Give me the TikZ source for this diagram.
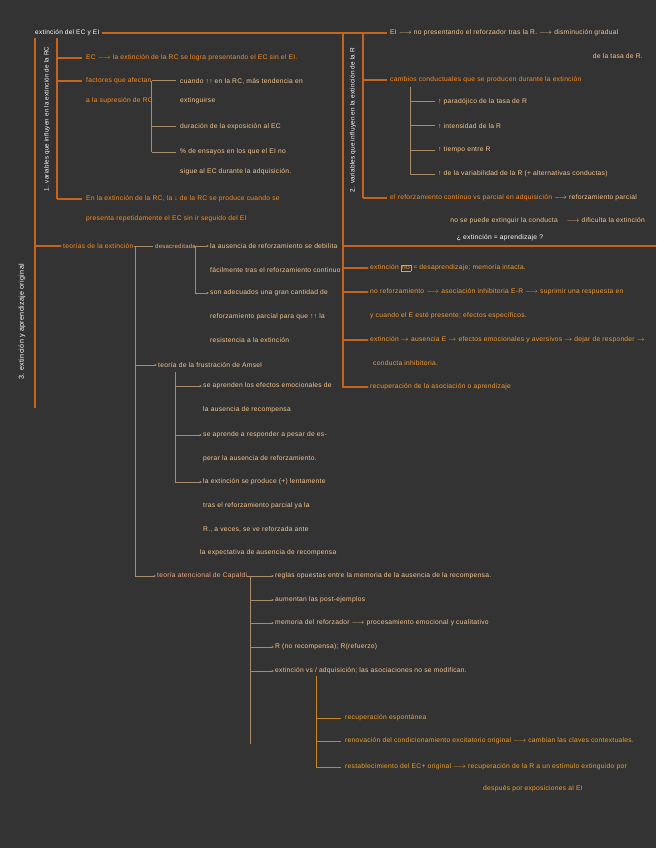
\documentclass[tikz,border=0pt]{standalone}
\usepackage{fontspec}
\setmainfont[LetterSpace=4]{Liberation Sans}
\usetikzlibrary{arrows.meta}
\definecolor{bgc}{HTML}{333333}
\definecolor{mainc}{HTML}{C4641E}
\definecolor{brtc}{HTML}{FF8A1C}
\definecolor{peachc}{HTML}{F7C78E}
\definecolor{tanc}{HTML}{A88C6A}
\definecolor{goldl}{HTML}{C8841E}
\definecolor{goldt}{HTML}{F2A024}
\definecolor{pinkc}{HTML}{EFA882}
\definecolor{orc}{HTML}{F59A30}
\newcommand{\ra}{$\rightarrow$}
\newcommand{\lra}{$\longrightarrow$}
\setlength{\fboxsep}{0.8pt}
\setlength{\fboxrule}{0.5pt}
\begin{document}
\begin{tikzpicture}[x=1pt,y=-1pt,
  lbl/.style={anchor=west,inner sep=0pt,font=\fontsize{6.7}{8}\selectfont},
  wt/.style={lbl,text=white},
  bo/.style={lbl,text=brtc},
  pe/.style={lbl,text=peachc},
  pk/.style={lbl,text=pinkc},
  oo/.style={lbl,text=orc},
  go/.style={lbl,text=goldt},
  vlab/.style={rotate=90,anchor=center,inner sep=0pt,text=white,font=\fontsize{6.2}{7}\selectfont},
  mline/.style={draw=mainc,line width=1.1pt},
  tline/.style={draw=tanc,line width=1pt},
  gline/.style={draw=goldl,line width=1pt},
  arrowed/.style={-{Stealth[length=2.6pt,width=2.4pt]},shorten >=1pt},
  gap/.style={shorten >=4pt}]
\fill[bgc] (0,0) rectangle (656,848);
\useasboundingbox (0,0) rectangle (656,848);

% ---------- titles and main verticals
\node[wt,font=\fontsize{6.5}{7}\selectfont] (title) at (35,33) {extinción del EC y EI};
\coordinate (Ltop) at (35,38); \coordinate (Lbot) at (35,408);
\draw[mline] (Ltop) -- (Lbot);
\coordinate (S1top) at (57,38); \coordinate (S1bot) at (57,199);
\draw[mline] (S1top) -- (S1bot);
\node[vlab] (lab1) at (47,119) {1. variables que influyen en la extinción de la RC};
\node[vlab,font=\fontsize{7.2}{8}\selectfont] (lab3) at (22,322) {3. extinción y aprendizaje original};
\node[vlab,font=\fontsize{6.4}{7}\selectfont] (lab2) at (353,120) {2. variables que influyen en la extinción de la R};

% ---------- section 1
\node[bo] (e1) at (86,58) {EC \lra{} la extinción de la RC se logra presentando el EC sin el EI.};
\draw[mline,gap] (S1top |- e1.west) -- (e1.west);
\node[bo] (f1) at (86,81) {factores que afectan};
\node[bo] (f2) at (86,101) {a la supresión de RC};
\draw[mline,gap] (S1top |- f1.west) -- (f1.west);
\node[bo] (x1) at (86,199) {En la extinción de la RC, la ↓ de la RC se produce cuando se};
\node[bo] (x2) at (86,219) {presenta repetidamente el EC sin ir seguido del EI};
\draw[mline,gap] (S1bot) -- (x1.west);

\node[pe] (s1) at (180,81) {cuando ↑↑ en la RC, más tendencia en};
\node[pe] (s1b) at (180,101) {extinguirse};
\node[pe] (s2) at (180,127) {duración de la exposición al EC};
\node[pe] (s3) at (180,152) {\% de ensayos en los que el EI no};
\node[pe] (s3b) at (180,172) {sigue al EC durante la adquisición.};
\draw[tline,gap] (f1.east) -- (s1.west);
\draw[tline] (f1.east) -- (f1.east |- s3.west);
\draw[tline,gap] (f1.east |- s2.west) -- (s2.west);
\draw[tline,gap] (f1.east |- s3.west) -- (s3.west);

% ---------- section 2
\coordinate (Rtop) at (343,33); \coordinate (Rbot) at (343,388);
\draw[mline] (Rtop) -- (Rbot);
\coordinate (R2top) at (363,33); \coordinate (R2bot) at (363,198);
\draw[mline] (R2top) -- (R2bot);
\node[pe] (ei) at (390,33) {EI \lra{} no presentando el reforzador tras la R. \lra{} disminución gradual};
\draw[mline,shorten >=3pt,shorten <=2pt] (title.east) -- (ei.west);
\node[pe,anchor=east] (ei2) at (643,56) {de la tasa de R.};
\node[bo] (cc) at (390,80) {cambios conductuales que se producen durante la extinción};
\draw[mline,shorten >=3pt] (R2top |- cc.west) -- (cc.west);
\coordinate (T1) at (410,87); \coordinate (T2) at (410,174);
\draw[tline] (T1) -- (T2);
\node[pe] (c1) at (438,102) {↑ paradójico de la tasa de R};
\node[pe] (c2) at (438,126) {↑ intensidad de la R};
\node[pe] (c3) at (438,150) {↑ tiempo entre R};
\node[pe] (c4) at (438,174) {↑ de la variabilidad de la R (+ alternativas conductas)};
\foreach \n in {c1,c2,c3,c4} \draw[tline,shorten >=3pt] (T1 |- \n.west) -- (\n.west);
\node[bo] (rf) at (390,198) {el reforzamiento continuo vs parcial en adquisición {\color{peachc}\lra{} reforzamiento parcial}};
\draw[mline,shorten >=3pt] (R2bot) -- (rf.west);
\node[pe,anchor=east] (rf2) at (645,221) {no se puede extinguir la conducta \quad\lra{} dificulta la extinción};
\node[wt,anchor=center] (rf3) at (500,238) {¿ extinción = aprendizaje ?};
\coordinate (Sep) at (656,246);
\draw[mline] (Rtop |- Sep) -- (Sep);

% ---------- right lower items
\node[oo] (r1) at (370,268) {extinción \fbox{no} = desaprendizaje; memoria intacta.};
\node[oo] (r2) at (370,292) {no reforzamiento \lra{} asociación inhibitoria E-R \lra{} suprimir una respuesta en};
\node[oo] (r2b) at (370,316) {y cuando el E esté presente; efectos específicos.};
\node[oo] (r3) at (370,340) {extinción \ra{} ausencia E \ra{} efectos emocionales y aversivos \ra{} dejar de responder \ra};
\node[oo] (r3b) at (373,363) {conducta inhibitoria.};
\node[oo] (r4) at (370,387) {recuperación de la asociación o aprendizaje};
\foreach \n in {r1,r2,r3,r4} \draw[mline,arrowed] (Rtop |- \n.west) -- (\n.west);

% ---------- theories
\node[bo] (te) at (63,246) {teorías de la extinción};
\draw[mline,arrowed] (Ltop |- te.west) -- (te.west);
\node[pk,font=\fontsize{6}{7}\selectfont] (de) at (155,246) {desacreditada};
\draw[tline,shorten >=2pt] (te.east) -- (de.west);
\node[pe] (d1) at (210,246) {la ausencia de reforzamiento se debilita};
\node[pe] (d1b) at (210,270) {fácilmente tras el reforzamiento continuo};
\node[pe] (d2) at (210,293) {son adecuados una gran cantidad de};
\node[pe] (d2b) at (210,317) {reforzamiento parcial para que ↑↑ la};
\node[pe] (d2c) at (210,340) {resistencia a la extinción};
\draw[tline,arrowed] (de.east) -- (d1.west);
\coordinate (D) at (195,246);
\draw[tline,arrowed] (D) -- (D |- d2.west) -- (d2.west);

\coordinate (M) at (135,246); \coordinate (Mb) at (135,576);
\draw[tline] (M) -- (Mb);
\node[pe] (am) at (158,365) {teoría de la frustración de Amsel};
\draw[tline,arrowed] (M |- am.west) -- (am.west);
\node[pk] (ca) at (157,576) {teoría atencional de Capaldi};
\draw[tline,arrowed] (Mb) -- (ca.west);

\coordinate (A) at (175,372);
\node[pe] (a1) at (203,386) {se aprenden los efectos emocionales de};
\node[pe] (a1b) at (203,410) {la ausencia de recompensa};
\node[pe] (a2) at (203,435) {se aprende a responder a pesar de es-};
\node[pe] (a2b) at (203,459) {perar la ausencia de reforzamiento.};
\node[pe] (a3) at (203,482) {la extinción se produce (+) lentamente};
\node[pe] (a3b) at (203,506) {tras el reforzamiento parcial ya la};
\node[pe] (a3c) at (203,529) {R., a veces, se ve reforzada ante};
\node[pe] (a3d) at (200,553) {la expectativa de ausencia de recompensa};
\draw[tline] (A) -- (A |- a3.west);
\foreach \n in {a1,a2,a3} \draw[tline,arrowed] (A |- \n.west) -- (\n.west);

\coordinate (C) at (250,576); \coordinate (Cb) at (250,744);
\draw[tline] (C) -- (Cb);
\node[pe] (g1) at (275,576) {reglas opuestas entre la memoria de la ausencia de la recompensa.};
\draw[tline,arrowed] (ca.east) -- (g1.west);
\node[pe] (g2) at (275,600) {aumentan las post-ejemplos};
\node[pe] (g3) at (275,623) {memoria del reforzador \lra{} procesamiento emocional y cualitativo};
\node[pe] (g4) at (275,647) {R (no recompensa); R(refuerzo)};
\node[pe] (g5) at (275,671) {extinción vs / adquisición; las asociaciones no se modifican.};
\foreach \n in {g2,g3,g4,g5} \draw[tline,arrowed] (C |- \n.west) -- (\n.west);

\coordinate (G) at (316,676); \coordinate (Gb) at (316,767);
\draw[gline] (G) -- (Gb);
\node[go] (h1) at (345,718) {recuperación espontánea};
\node[go] (h2) at (345,741) {renovación del condicionamiento excitatorio original \lra{} cambian las claves contextuales.};
\node[go] (h3) at (345,767) {restablecimiento del EC+ original \lra{} recuperación de la R a un estímulo extinguido por};
\node[go] (h3b) at (483,789) {después por exposiciones al EI};
\draw[gline,gap] (G |- h1.west) -- (h1.west);
\draw[gline,gap] (G |- h2.west) -- (h2.west);
\draw[gline,gap] (Gb) -- (h3.west);
\end{tikzpicture}
\end{document}
